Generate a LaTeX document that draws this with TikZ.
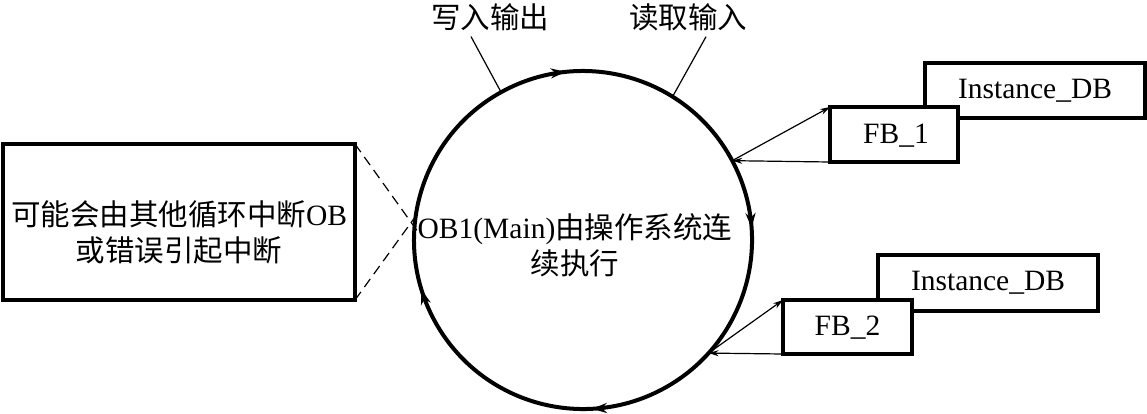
\documentclass[tikz,border=0pt]{standalone}
\usepackage{fontspec}
\setmainfont{Liberation Serif}
\newfontfamily\cjk{Noto Sans CJK SC}
\usetikzlibrary{arrows.meta,decorations.markings}
\begin{document}
\begin{tikzpicture}[x=1pt,y=1pt,
  every node/.style={font=\fontsize{29.5}{36}\selectfont, inner sep=0pt, outer sep=0pt},
  box/.style={draw, line width=3.3pt, fill=white},
  thinline/.style={line width=1.2pt},
  tip/.style={-{Stealth[length=10pt,width=6pt]}},
  circ/.style={line width=4pt,
    decoration={markings,
      mark=at position 0.067 with {\arrow{Stealth[length=15pt,width=10pt]}},
      mark=at position 0.322 with {\arrow{Stealth[length=15pt,width=10pt]}},
      mark=at position 0.575 with {\arrow{Stealth[length=15pt,width=10pt]}},
      mark=at position 0.786 with {\arrow{Stealth[length=15pt,width=10pt]}}},
    postaction={decorate}}
]
\useasboundingbox (0,0) rectangle (1147,-413);

% left box
\node[box, minimum width=352pt, minimum height=156pt] (lb) at (179,-222) {};
\node[align=center] (lbt) at (179,-232) {{\cjk 可能会由其他循环中断}OB\\{\cjk 或错误引起中断}};

% main circle
\node[circle, minimum size=338pt] (ob1) at (583,-240) {};
\node[align=center] (obt) at (575,-245) {OB1(Main){\cjk 由操作系统连}\\{\cjk 续执行}};
\draw[circ] (ob1.120) arc[start angle=120, end angle=-240, radius=169pt];

% top labels
\node (wr) at (490,-17) {\cjk 写入输出};
\node (rd) at (688,-17) {\cjk 读取输入};
\draw[thinline] ([shift={(-19,-6)}]wr.south) -- (ob1.119);
\draw[thinline] ([shift={(18,-6)}]rd.south) -- (ob1.58.5);

% FB / instance boxes
\node[box, minimum width=220pt, minimum height=55pt] (i1) at (1035,-90.5) {Instance\_DB};
\node[box, minimum width=128pt, minimum height=55pt, text depth=2pt] (f1) at (894,-134.5) {\hspace{4pt}FB\_1};
\node[box, minimum width=220pt, minimum height=56pt] (i2) at (988,-283) {Instance\_DB};
\node[box, minimum width=129pt, minimum height=54pt, text depth=2pt] (f2) at (847.5,-327) {FB\_2};

\draw[thinline,tip] (ob1.28) -- (f1.north west);
\draw[thinline,tip] (f1.south west) -- (ob1.28);
\draw[thinline,tip] (ob1.-42) -- (f2.north west);
\draw[thinline,tip] (f2.south west) -- (ob1.-42);

% dashed connectors
\coordinate (d1) at (418,-232);
\coordinate (d2) at (418,-213);
\draw[thinline,dash pattern=on 10pt off 6pt] (lb.north east) -- (d1);
\draw[thinline,dash pattern=on 10pt off 6pt] (lb.south east) -- (d2);
\end{tikzpicture}
\end{document}
